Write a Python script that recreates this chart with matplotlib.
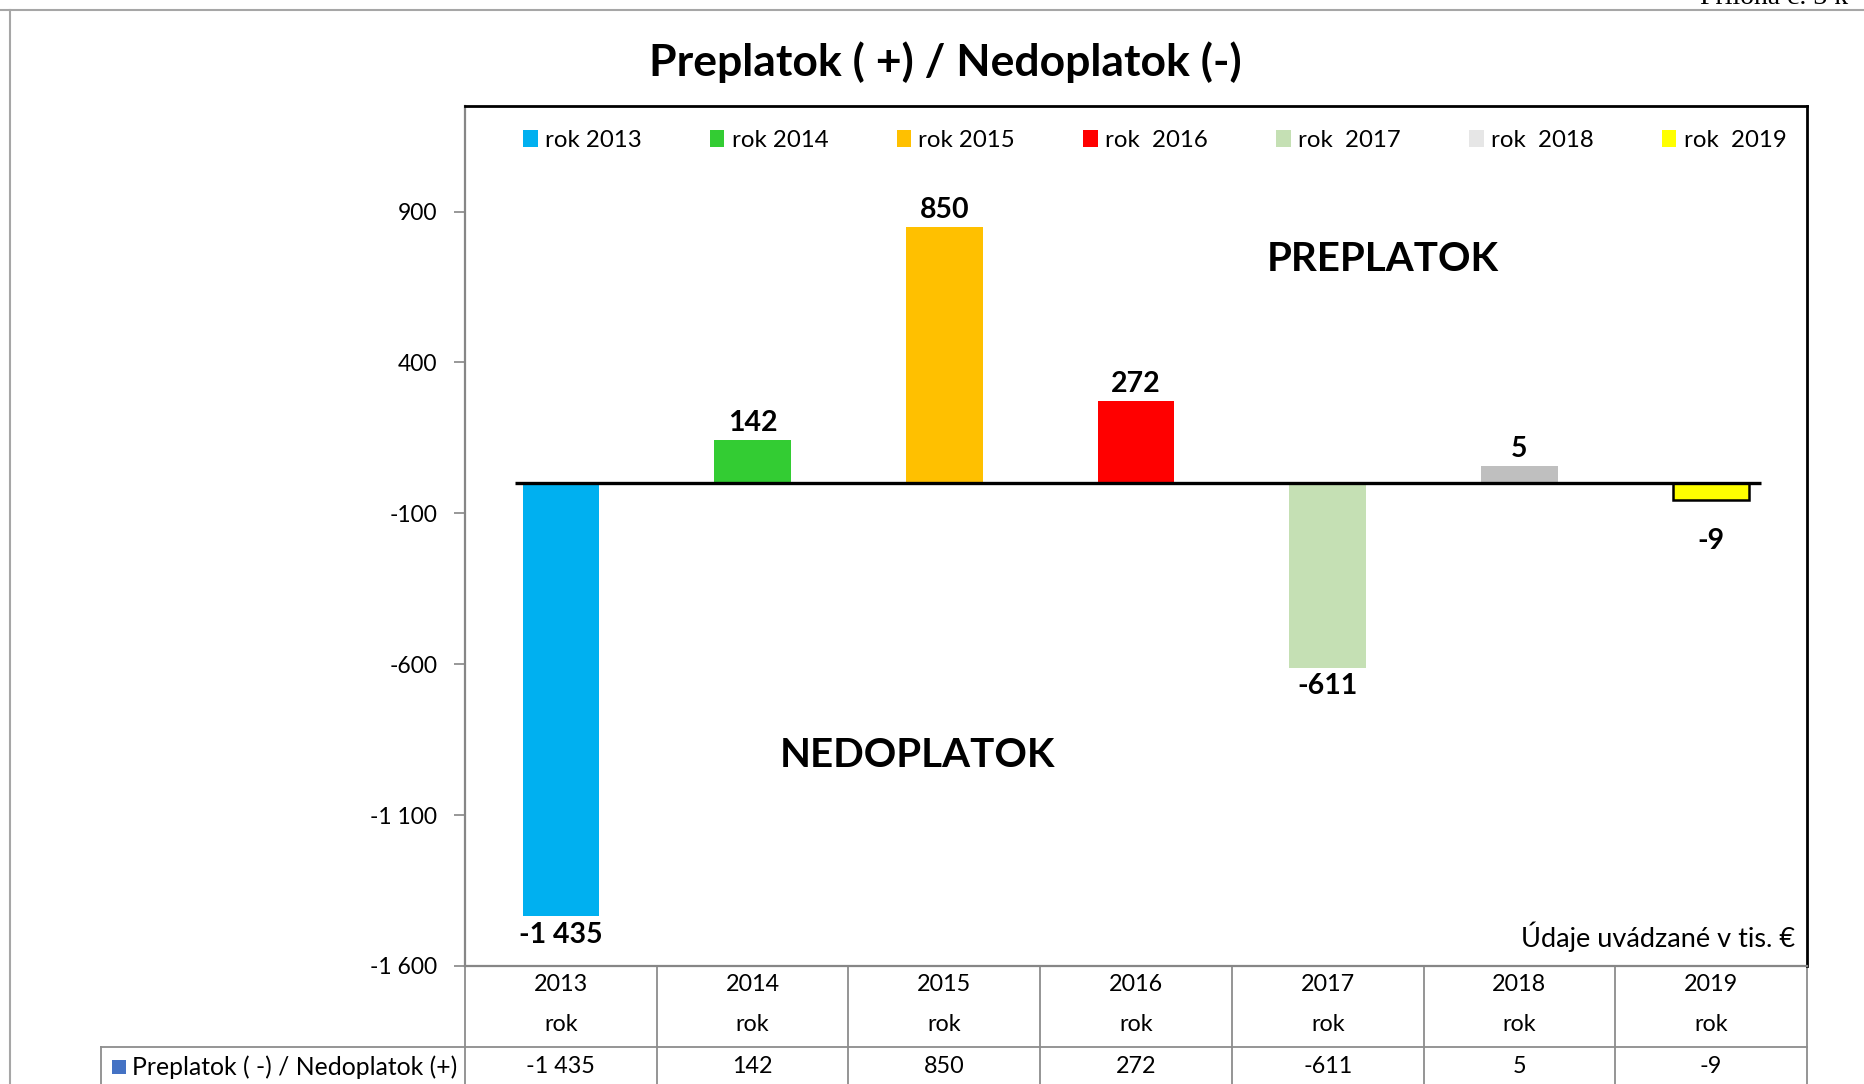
import matplotlib
matplotlib.use("Agg")
import matplotlib.pyplot as plt
from matplotlib.patches import Patch, Rectangle
from matplotlib.lines import Line2D

plt.rcParams['font.family'] = ['Lato', 'DejaVu Sans']

# Dáta
years = ["2013", "2014", "2015", "2016", "2017", "2018", "2019"]
values = [-1435, 142, 850, 272, -611, 5, -9]          # hodnoty v popisoch a tabuľke
bar_heights = [-1435, 142, 850, 272, -611, 57, -57]  # výška stĺpcov tak, ako sú nakreslené
legend_labels = ["rok 2013", "rok 2014", "rok 2015", "rok  2016", "rok  2017", "rok  2018", "rok  2019"]
bar_colors = ["#00B0F0", "#33CC33", "#FFC000", "#FF0000", "#C5E0B4", "#BFBFBF", "#FFFF00"]
legend_colors = ["#00B0F0", "#33CC33", "#FFC000", "#FF0000", "#C5E0B4", "#E6E6E6", "#FFFF00"]
yticks = [-1600, -1100, -600, -100, 400, 900]
series_name = "Preplatok ( -) / Nedoplatok (+)"


def fmt(v):
    return f"{v:,}".replace(",", " ")


W, H = 1865, 1084
fig = plt.figure(figsize=(W / 100, H / 100), dpi=100)
ax = fig.add_axes([465 / W, (H - 966) / H, 1342 / W, 860 / H])

x = list(range(len(years)))
ax.bar(x, bar_heights, width=0.4, color=bar_colors, zorder=2)
# žltý stĺpec má čierny okraj
ax.bar(x[-1], bar_heights[-1], width=0.4, color=bar_colors[-1], edgecolor="black", linewidth=1.8, zorder=3)
ax.hlines(0, -0.24, 6.26, color="black", linewidth=2.4, zorder=4)

ax.set_xlim(-0.5, 6.5)
ax.set_ylim(-1600, 1250)
ax.set_yticks(yticks)
ax.set_yticklabels([fmt(t) for t in yticks], fontsize=16.5)
ax.tick_params(axis="y", length=8, width=1.2, color="#868686", pad=12)
ax.set_xticks([])
for s in ["top", "right"]:
    ax.spines[s].set_color("black")
    ax.spines[s].set_linewidth(2)
ax.spines["left"].set_color("#868686")
ax.spines["left"].set_linewidth(1.6)
ax.spines["bottom"].set_color("#868686")
ax.spines["bottom"].set_linewidth(1.6)

# popisy hodnôt
for xi, h, v in zip(x, bar_heights, values):
    if h >= 0:
        ax.annotate(fmt(v), (xi, h), xytext=(0, 3), textcoords="offset points",
                    ha="center", va="bottom", fontsize=20.5, fontweight="bold")
    else:
        off = -20 if v == -9 else -4
        ax.annotate(fmt(v), (xi, h), xytext=(0, off), textcoords="offset points",
                    ha="center", va="top", fontsize=20.5, fontweight="bold")

ax.text(0.684, 0.822, "PREPLATOK", transform=ax.transAxes, ha="center", va="center",
        fontsize=29, fontweight="bold")
ax.text(0.337, 0.245, "NEDOPLATOK", transform=ax.transAxes, ha="center", va="center",
        fontsize=29, fontweight="bold")
ax.text(0.991, 0.034, "Údaje uvádzané v tis. €", transform=ax.transAxes, ha="right", va="center",
        fontsize=19.5)

# legenda
handles = [Patch(facecolor=c, edgecolor="none") for c in legend_colors]
ax.legend(handles, legend_labels, ncol=7, loc="upper center", bbox_to_anchor=(0.514, 0.997),
          frameon=False, fontsize=17.3, handlelength=0.6, handleheight=0.7,
          handletextpad=0.3, columnspacing=2.85)

# tabuľka pod grafom
tr = ax.get_xaxis_transform()
grid_c = "#8C8C8C"
for xi, y, v in zip(x, years, values):
    ax.text(xi, -0.021, y, transform=tr, ha="center", va="center", fontsize=16.8)
    ax.text(xi, -0.0686, "rok", transform=tr, ha="center", va="center", fontsize=16.8)
    ax.text(xi, -0.117, fmt(v), transform=tr, ha="center", va="center", fontsize=16.8)
for k in range(8):
    ax.add_line(Line2D([k - 0.5, k - 0.5], [0, -0.16], transform=tr, color=grid_c,
                       linewidth=1.3, clip_on=False))
left = (101 - 465) / 1342
ax.add_line(Line2D([left, 1.0], [-0.0942, -0.0942], transform=ax.transAxes, color=grid_c,
                   linewidth=1.3, clip_on=False))
ax.add_line(Line2D([left, left], [-0.0942, -0.16], transform=ax.transAxes, color=grid_c,
                   linewidth=1.3, clip_on=False))
fig.patches.append(Rectangle((112 / W, (H - 1074) / H), 14 / W, 14 / H, transform=fig.transFigure,
                             facecolor="#4472C4", edgecolor="none"))
fig.text(132 / W, (H - 1067) / H, series_name, ha="left", va="center", fontsize=17.8)

# nadpis
fig.text(945 / W, 1 - 62 / H, "Preplatok ( +) / Nedoplatok (-)", ha="center", va="center",
         fontsize=32, fontweight="bold")

# okraj stránky
fig.add_artist(Line2D([0, 1], [1 - 10 / H, 1 - 10 / H], transform=fig.transFigure, color="#A6A6A6", linewidth=1.5))
fig.add_artist(Line2D([10 / W, 10 / W], [0, 1 - 10 / H], transform=fig.transFigure, color="#A6A6A6", linewidth=1.5))
fig.text(1700 / W, 1 - 4 / H, "Príloha č. 3 k", ha="left", va="baseline", fontsize=20,
         family="Liberation Serif")

fig.savefig("out.png", dpi=100)
